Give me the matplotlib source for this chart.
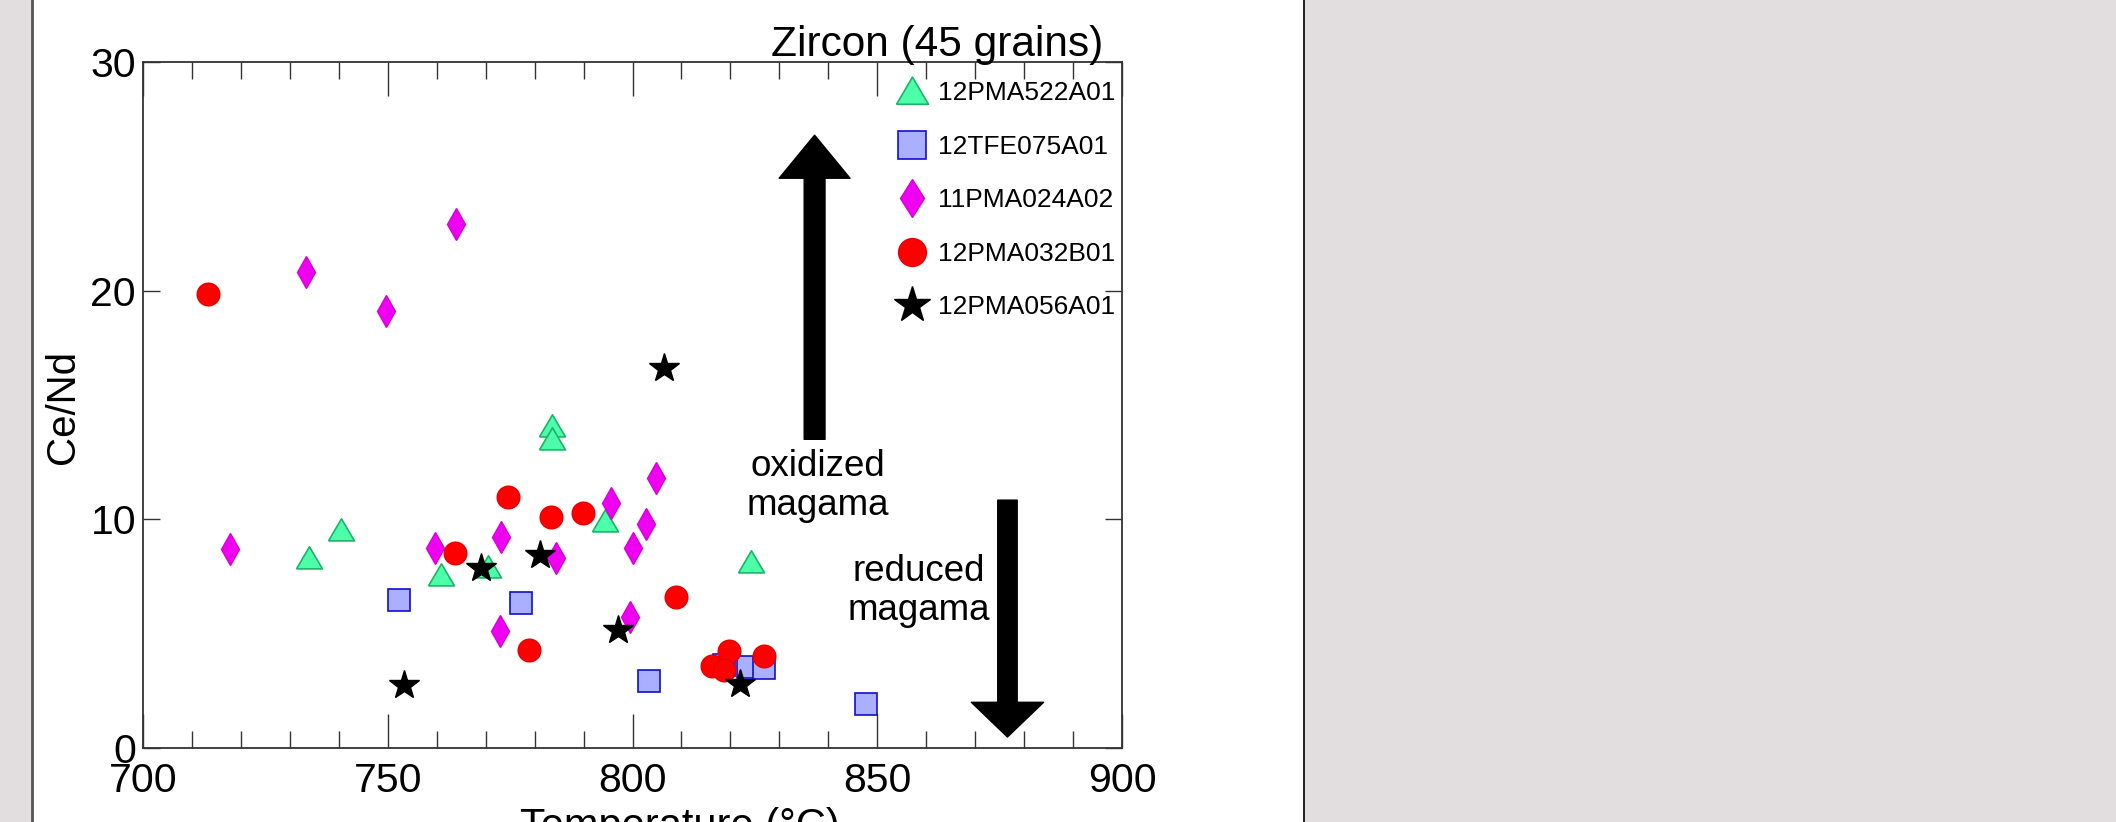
import matplotlib
matplotlib.use("Agg")
import matplotlib.pyplot as plt
from matplotlib.patches import Rectangle
from matplotlib.lines import Line2D
from matplotlib.ticker import MultipleLocator

plt.rcParams["font.family"] = ["Liberation Sans", "DejaVu Sans"]

# temperature (degC) and Ce/Nd, one pair of lists per sample
tri_T = [783.5, 783.5, 740.5, 734.0, 760.8, 770.4, 794.4, 824.2]
tri_V = [14.1, 13.5, 9.55, 8.29, 7.56, 7.93, 9.94, 8.15]

sq_T = [752.3, 777.2, 803.4, 818.7, 823.5, 826.9, 847.6]
sq_V = [6.47, 6.32, 2.94, 3.65, 3.55, 3.5, 1.92]

dia_T = [717.7, 733.2, 749.6, 764.0, 759.7, 773.2, 784.3, 772.9, 795.7, 802.7, 800.1, 804.8, 799.4]
dia_V = [8.7, 20.8, 19.1, 22.9, 8.73, 9.21, 8.33, 5.13, 10.7, 9.79, 8.73, 11.8, 5.74]

circ_T = [713.3, 774.6, 783.3, 789.8, 763.7, 778.9, 808.8, 816.2, 819.7, 818.7, 826.8]
circ_V = [19.84, 10.99, 10.11, 10.26, 8.51, 4.29, 6.62, 3.6, 4.25, 3.41, 4.02]

star_T = [753.4, 769.0, 781.1, 797.0, 822.0, 806.5]
star_V = [2.75, 7.86, 8.44, 5.16, 2.82, 16.6]

samples = ["12PMA522A01", "12TFE075A01", "11PMA024A02", "12PMA032B01", "12PMA056A01"]

# wide, flat triangle like the original
tri_marker = [(-1, -0.8), (1, -0.8), (0, 0.9), (-1, -0.8)]

fig = plt.figure(figsize=(21.16, 8.22), dpi=100, facecolor="#e2dedf")

# white "page" with its border lines
fig.add_artist(Rectangle((32 / 2116, 0), (1304 - 32) / 2116, 1, transform=fig.transFigure,
                         facecolor="white", edgecolor="none", zorder=0))
fig.add_artist(Line2D([32 / 2116, 32 / 2116], [0, 1], transform=fig.transFigure, color="#555555", lw=2))
fig.add_artist(Line2D([1304 / 2116, 1304 / 2116], [0, 1], transform=fig.transFigure, color="#111111", lw=1.3))

ax = fig.add_axes([143 / 2116, 74 / 822, 979 / 2116, 686 / 822])
ax.set_facecolor("white")

h1, = ax.plot(tri_T, tri_V, ls="none", marker=tri_marker, ms=18.7, mfc="#4dffa8", mec="#1db368", mew=1.2)
h2, = ax.plot(sq_T, sq_V, ls="none", marker="s", ms=16, mfc="#abafff", mec="#1010d0", mew=1.2)
h3, = ax.plot(dia_T, dia_V, ls="none", marker="d", ms=16.1, mfc="#f000f0", mec="#d800d8", mew=1)
h4, = ax.plot(circ_T, circ_V, ls="none", marker="o", ms=16.3, mfc="#ff0000", mec="#e80000", mew=1)
h5, = ax.plot(star_T, star_V, ls="none", marker="*", ms=22, mfc="black", mec="black", mew=1)

ax.set_xlim(700, 900)
ax.set_ylim(0, 30)
ax.xaxis.set_major_locator(MultipleLocator(50))
ax.xaxis.set_minor_locator(MultipleLocator(10))
ax.yaxis.set_major_locator(MultipleLocator(10))

ax.tick_params(axis="x", which="major", direction="in", top=True, length=24.5, width=1, color="#333333",
               labelsize=29.5, pad=10)
ax.tick_params(axis="x", which="minor", direction="in", top=True, length=12, width=1, color="#333333")
ax.tick_params(axis="y", which="major", direction="in", right=True, length=12, width=1, color="#333333",
               labelsize=29.5, pad=5)
for s in ax.spines.values():
    s.set_color("#333333")
    s.set_linewidth(1.3)

ax.set_xlabel("Temperature (°C)", fontsize=30)
ax.xaxis.set_label_coords(0.548, -0.086)
ax.set_ylabel("Ce/Nd", fontsize=29)
ax.yaxis.set_label_coords(-0.062, 0.497)

ax.text(0.981, 1.009, "Zircon (45 grains)", transform=ax.transAxes, ha="right", va="baseline", fontsize=30.5)

# oxidized / reduced arrows
ax.annotate("", xy=(837.2, 26.8), xytext=(837.2, 13.5),
            arrowprops=dict(arrowstyle="simple,head_length=3.1,head_width=5.1,tail_width=1.5",
                            mutation_scale=10, fc="black", ec="black", shrinkA=0, shrinkB=0))
ax.annotate("", xy=(876.6, 0.48), xytext=(876.6, 10.84),
            arrowprops=dict(arrowstyle="simple,head_length=2.5,head_width=5.2,tail_width=1.4",
                            mutation_scale=10, fc="black", ec="black", shrinkA=0, shrinkB=0))
ax.text(837.9, 11.46, "oxidized\nmagama", ha="center", va="center", fontsize=26.5, linespacing=1.15)
ax.text(858.5, 6.86, "reduced\nmagama", ha="center", va="center", fontsize=26.5, linespacing=1.15)

ax.legend([h1, h2, h3, h4, h5], samples, loc="upper left", bbox_to_anchor=(0.772, 0.972),
          frameon=False, fontsize=19, markerscale=1.23, handlelength=1.0, handletextpad=0.5,
          labelspacing=1.12, borderpad=0, borderaxespad=0)

fig.savefig("out.png", dpi=100, facecolor=fig.get_facecolor())
plt.close(fig)
